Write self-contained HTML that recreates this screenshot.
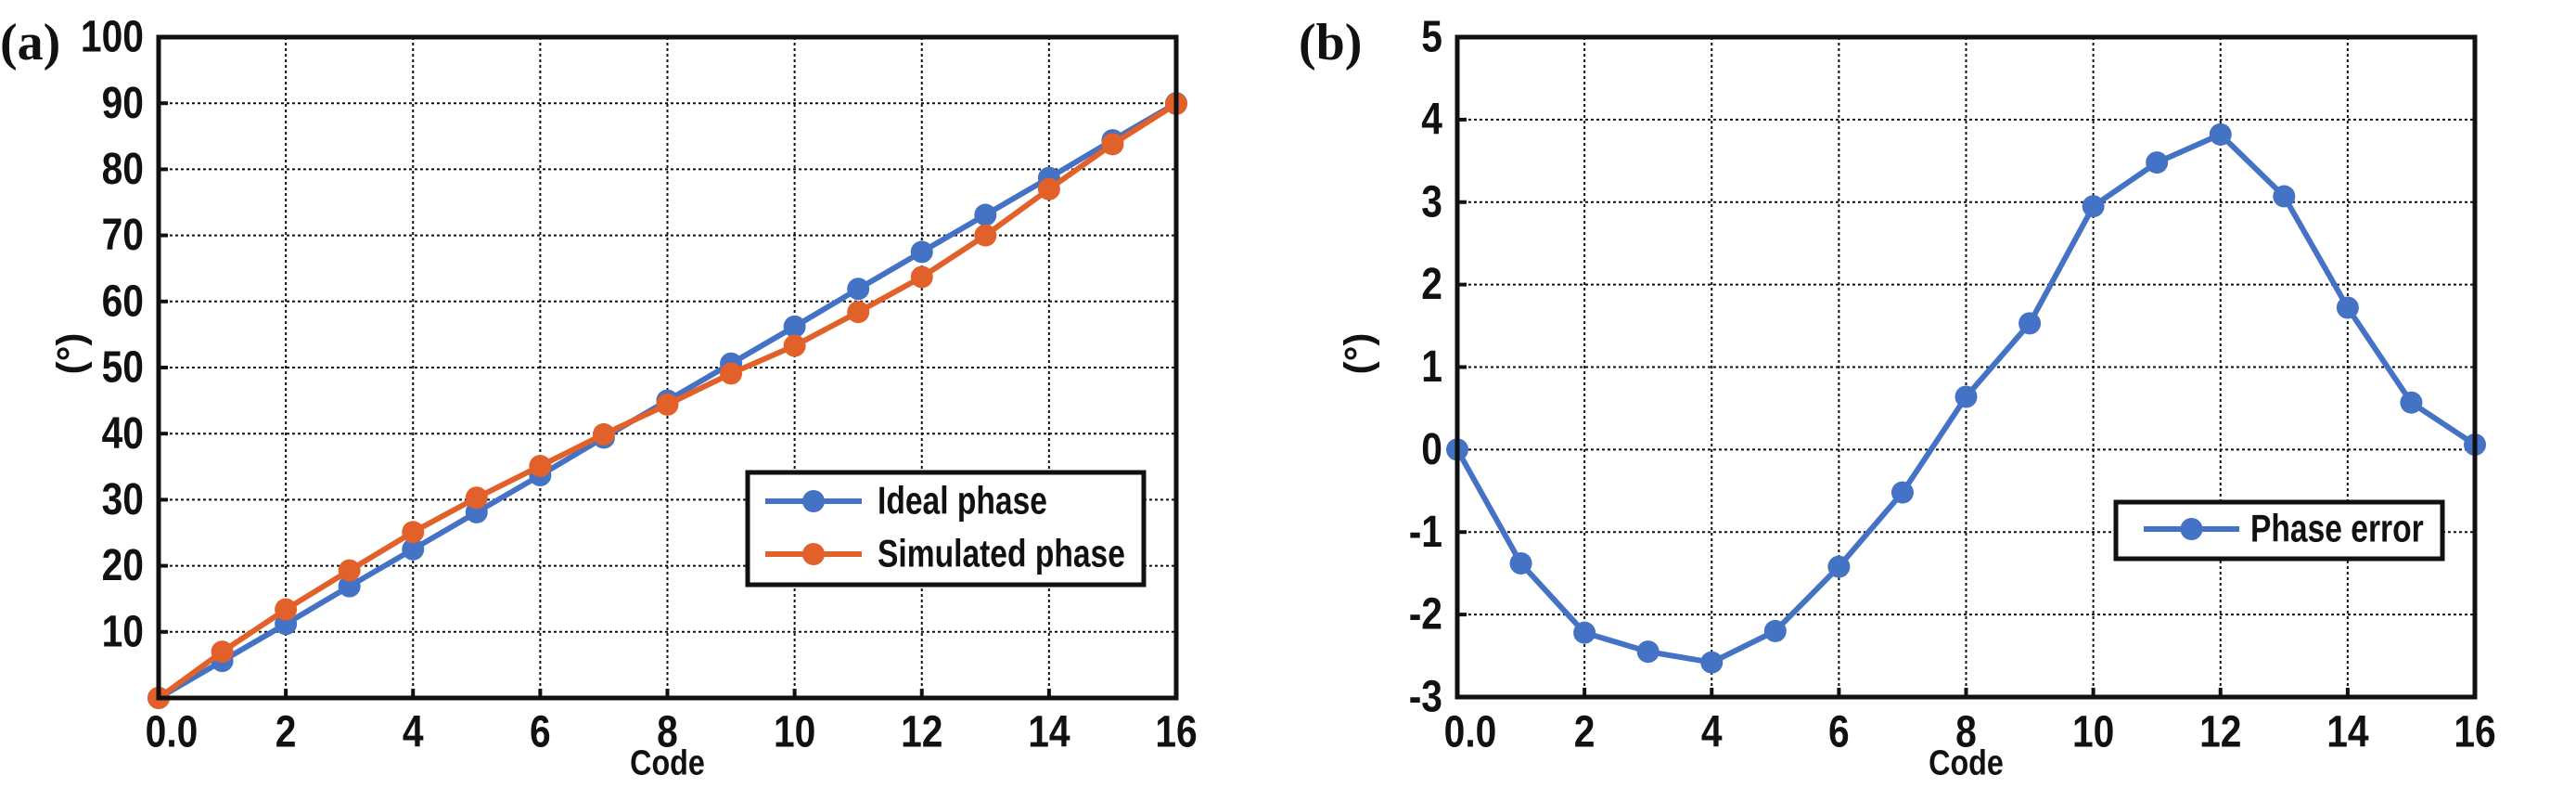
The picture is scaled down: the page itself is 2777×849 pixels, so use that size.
<!DOCTYPE html>
<html><head><meta charset="utf-8"><style>
html,body{margin:0;padding:0;background:#fff}
svg{display:block;font-family:"Liberation Sans",sans-serif}
</style></head><body>
<svg id="c" width="2777" height="849" viewBox="0 0 2777 849" xmlns="http://www.w3.org/2000/svg"></svg>
<script>
const codes=[0,1,2,3,4,5,6,7,8,9,10,11,12,13,14,15,16];
const idealPhase=[0,5.6,11.2,16.9,22.5,28.1,33.7,39.4,45,50.6,56.2,61.9,67.5,73.1,78.7,84.4,90];
const simPhase=[0,7.0,13.4,19.3,25.1,30.3,35.1,39.9,44.4,49.1,53.3,58.4,63.7,70.0,77.0,83.8,89.9];
const phaseError=[0,-1.38,-2.22,-2.45,-2.58,-2.2,-1.42,-0.52,0.64,1.53,2.95,3.48,3.82,3.07,1.72,0.57,0.06];
const xTicks=[0,2,4,6,8,10,12,14,16];
const xTickLabels=["0.0","2","4","6","8","10","12","14","16"];
const yTicksA=[10,20,30,40,50,60,70,80,90,100];
const yTicksB=[-3,-2,-1,0,1,2,3,4,5];
const BLUE="#4472C4",ORANGE="#E2612A";
const svg=document.getElementById('c');
const NS="http://www.w3.org/2000/svg";
function el(t,a,p){const e=document.createElementNS(NS,t);for(const k in a)e.setAttribute(k,a[k]);(p||svg).appendChild(e);return e;}
function txt(x,y,s,size,anchor,p,sx){const g=el('g',{transform:`translate(${x},${y}) scale(${sx||0.85},1)`},p);
 const t=el('text',{x:0,y:0,'font-size':size,'font-weight':'bold','text-anchor':anchor||'middle','dominant-baseline':'central',fill:'#111'},g);t.textContent=s;return g;}

function panel(cfg){
 const {L,R,T,B,ymin,ymax,yticks,series,label,legend,name,ylx}=cfg;
 const g=el('g',{});
 
 
 const xs=v=>L+(v-0)/(16-0)*(R-L);
 const ys=v=>B-(v-ymin)/(ymax-ymin)*(B-T);
 const grid=el('g',{},g);
 
 
 xTicks.forEach(v=>{if(v>0&&v<16)el('line',{x1:xs(v),x2:xs(v),y1:T,y2:B,stroke:'#111','stroke-width':2,'stroke-dasharray':'3,3'},grid);});
 yticks.forEach(v=>{if(v>ymin&&v<ymax)el('line',{x1:L,x2:R,y1:ys(v),y2:ys(v),stroke:'#111','stroke-width':2,'stroke-dasharray':'3,3'},grid);});
 xTicks.forEach(v=>el('line',{x1:xs(v),x2:xs(v),y1:B,y2:B-10,stroke:'#111','stroke-width':4},g));
 yticks.forEach(v=>el('line',{x1:L,x2:L+10,y1:ys(v),y2:ys(v),stroke:'#111','stroke-width':4},g));
 xTicks.forEach((v,i)=>{const t=txt(xs(v)+(i==0?14:0),789,xTickLabels[i],48,'middle',g);
  
  });
 yticks.forEach(v=>{const t=txt(L-16,ys(v),String(v),48,'end',g);
  
  });
 const xt=txt((L+R)/2,822,'Code',38,'middle',g,0.85);
 
 
 const yt=el('text',{x:0,y:0,transform:`translate(${ylx},381) rotate(-90)`,'font-size':42,'font-weight':'bold','text-anchor':'middle','dominant-baseline':'central',fill:'#111'},g);
 yt.textContent='(°)';
 
 
 const pl=el('text',{x:L-171,y:64,'font-size':56,'font-weight':'bold','font-family':'Liberation Serif,serif',fill:'#111'},g);
 pl.textContent=label;
 
 
 series.forEach(s=>{
  const sg=el('g',{},g);
  
  
  el('polyline',{points:s.data.map((v,i)=>xs(codes[i])+','+ys(v)).join(' '),fill:'none',stroke:s.color,'stroke-width':6,'stroke-linejoin':'round'},sg);
  s.data.forEach((v,i)=>{const c=el('circle',{cx:xs(codes[i]),cy:ys(v),r:12,fill:s.color},sg);
   
   });
 });
 el('rect',{x:L,y:T,width:R-L,height:B-T,fill:'none',stroke:'#111','stroke-width':5},g);
 const lg=el('g',{},g);
 
 
 el('rect',{x:legend.x,y:legend.y,width:legend.w,height:legend.h,fill:'#fff',stroke:'#111','stroke-width':5},lg);
 legend.items.forEach((it,i)=>{
  const ey=legend.y+legend.first+i*57;
  const e=el('g',{},lg);
  
  
  el('line',{x1:legend.x+legend.lx1,x2:legend.x+legend.lx2,y1:ey,y2:ey,stroke:it.color,'stroke-width':6},e);
  el('circle',{cx:legend.x+(legend.lx1+legend.lx2)/2,cy:ey,r:12,fill:it.color},e);
  txt(legend.x+legend.tx,ey,it.text,42,'start',e,0.8);
 });
}
panel({name:'chart-a',L:171,R:1268,T:40,B:752,ymin:0,ymax:100,yticks:yTicksA,label:'(a)',ylx:76,
 series:[{name:'ideal-phase-line',data:idealPhase,color:BLUE},{name:'simulated-phase-line',data:simPhase,color:ORANGE}],
 legend:{x:806,y:509,w:427,h:121,first:31,lx1:19,lx2:123,tx:140,items:[{text:'Ideal phase',color:BLUE},{text:'Simulated phase',color:ORANGE}]}});
panel({name:'chart-b',L:1571,R:2668,T:40,B:751,ymin:-3,ymax:5,yticks:yTicksB,label:'(b)',ylx:1464,
 series:[{name:'phase-error-line',data:phaseError,color:BLUE}],
 legend:{x:2281,y:541,w:352,h:61,first:29,lx1:30,lx2:133,tx:145,items:[{text:'Phase error',color:BLUE}]}});
</script>
</body></html>
